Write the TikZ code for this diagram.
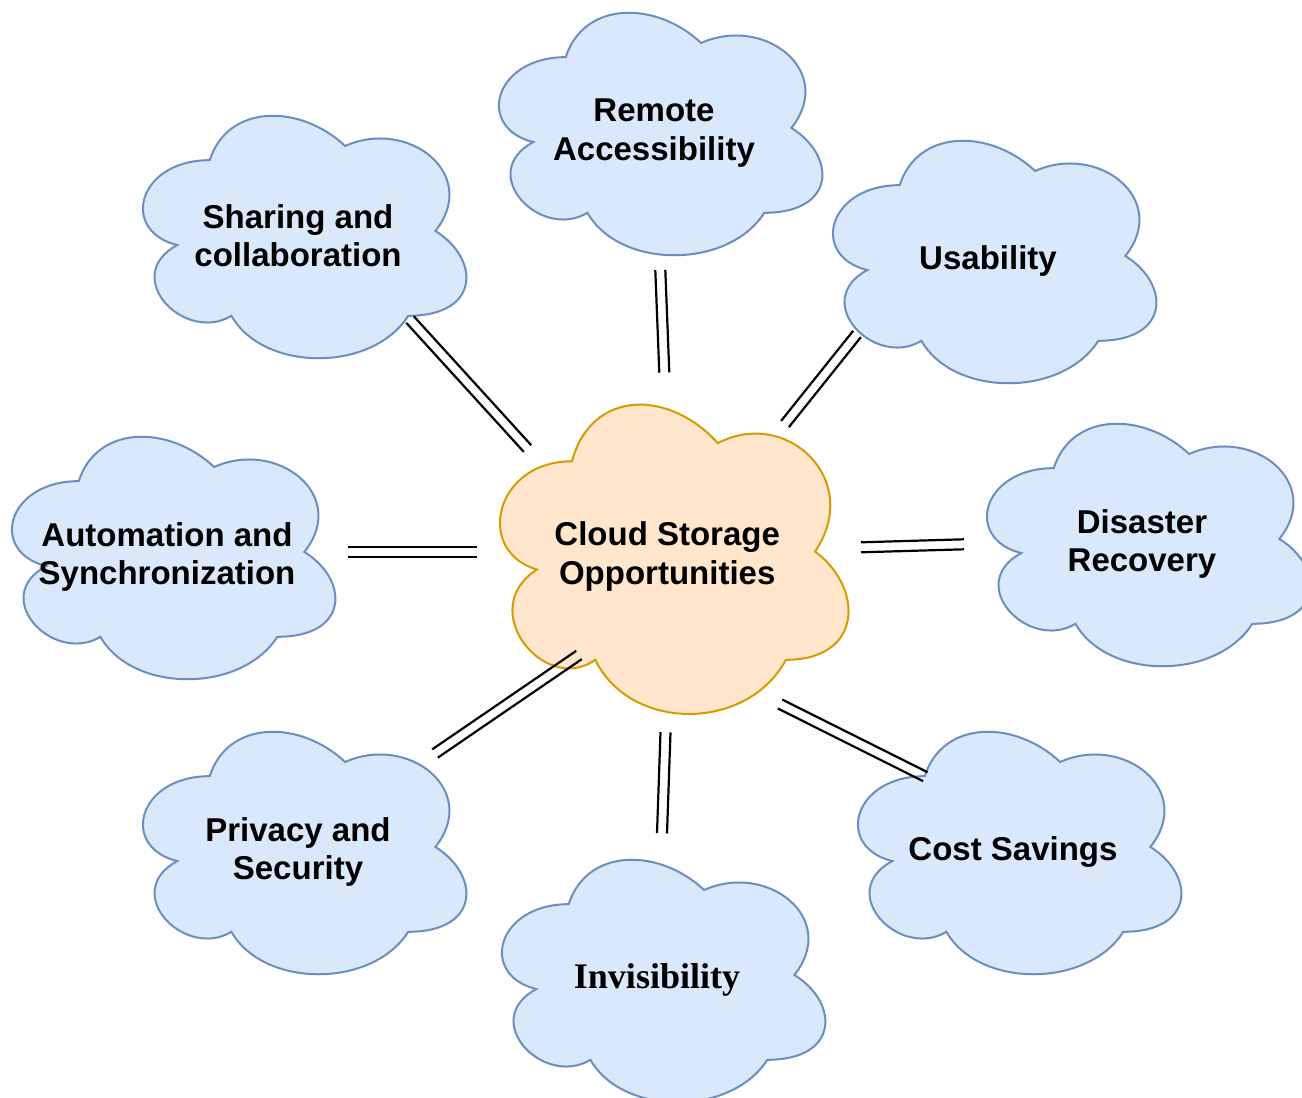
\documentclass[tikz,border=0pt]{standalone}
\usepackage{fontspec}
\setsansfont{Liberation Sans}
\newfontfamily\bookfont{Liberation Serif}
\usetikzlibrary{calc}

\definecolor{blueFill}{HTML}{DAE8FC}
\definecolor{blueLine}{HTML}{6C8EBF}
\definecolor{orangeFill}{HTML}{FFE6CC}
\definecolor{orangeLine}{HTML}{D79B00}

% cloud: name, x, y, width, height, style, text
\newcommand{\cloudat}[7]{%
\begin{scope}[shift={(#2,#3)},x=#4pt,y=-#5pt]
\draw[#6] (0.25,0.25)
  .. controls (0.05,0.25) and (0,0.5) .. (0.16,0.55)
  .. controls (0,0.66) and (0.18,0.9) .. (0.31,0.8)
  .. controls (0.4,1) and (0.7,1) .. (0.8,0.8)
  .. controls (1,0.8) and (1,0.6) .. (0.875,0.5)
  .. controls (1,0.3) and (0.8,0.1) .. (0.625,0.2)
  .. controls (0.5,0.05) and (0.3,0.05) .. (0.25,0.25) -- cycle;
\node[cloudtext] (#1) at (0.5,0.5) {#7};
\end{scope}}

% two parallel strokes between two points
\newcommand{\twinlink}[2]{%
\draw[linkline] ($(#1)!5pt!90:(#2)$) -- ($(#2)!5pt!-90:(#1)$);
\draw[linkline] ($(#1)!5pt!-90:(#2)$) -- ($(#2)!5pt!90:(#1)$);}

\begin{document}
\begin{tikzpicture}[x=1pt,y=-1pt,
  bluecloud/.style={draw=blueLine,fill=blueFill,line width=2pt},
  orangecloud/.style={draw=orangeLine,fill=orangeFill,line width=2pt},
  cloudtext/.style={align=center,inner sep=0pt,xshift=-2pt,yshift=-5pt,
    font=\sffamily\bfseries\fontsize{33}{38.5}\selectfont},
  linkline/.style={draw=black,line width=2.2pt}]
\useasboundingbox (0,0) rectangle (1302,1098);

\cloudat{remote}{475.5}{-13.6}{361}{283}{bluecloud}{Remote\\Accessibility}
\cloudat{share}{119.5}{89.4}{361}{283}{bluecloud}{Sharing and\\collaboration}
\cloudat{usab}{809.5}{114.4}{361}{283}{bluecloud}{Usability}
\cloudat{disaster}{963.5}{397.4}{361}{283}{bluecloud}{Disaster\\Recovery}
\cloudat{auto}{-11.5}{410.4}{361}{283}{bluecloud}{Automation and\\Synchronization}
\cloudat{privacy}{119.5}{705.4}{361}{283}{bluecloud}{Privacy and\\Security}
\cloudat{invis}{478.5}{833.4}{361}{283}{bluecloud}{{\bookfont\fontsize{36}{40}\selectfont Invisibility}}
\cloudat{cost}{834.5}{705.4}{361}{283}{bluecloud}{Cost Savings}
\cloudat{storage}{474.7}{371}{389}{361}{orangecloud}{Cloud Storage\\Opportunities}

\coordinate (shareA) at (410,319.5);
\coordinate (shareB) at (527.5,448.5);
\coordinate (remoteA) at (660.3,270);
\coordinate (remoteB) at (664.3,372.5);
\coordinate (usabA) at (857,334);
\coordinate (usabB) at (785,424);
\coordinate (disasterA) at (964,544.3);
\coordinate (disasterB) at (861,547.3);
\coordinate (autoA) at (348,551.8);
\coordinate (autoB) at (477,551.8);
\coordinate (privacyA) at (435,753.5);
\coordinate (privacyB) at (579,655);
\coordinate (invisA) at (662,833.3);
\coordinate (invisB) at (665.5,732.3);
\coordinate (costA) at (925.3,776.7);
\coordinate (costB) at (780,704);

\twinlink{shareA}{shareB}
\twinlink{remoteA}{remoteB}
\twinlink{usabA}{usabB}
\twinlink{disasterA}{disasterB}
\twinlink{autoA}{autoB}
\twinlink{privacyA}{privacyB}
\twinlink{invisA}{invisB}
\twinlink{costA}{costB}

\end{tikzpicture}
\end{document}
